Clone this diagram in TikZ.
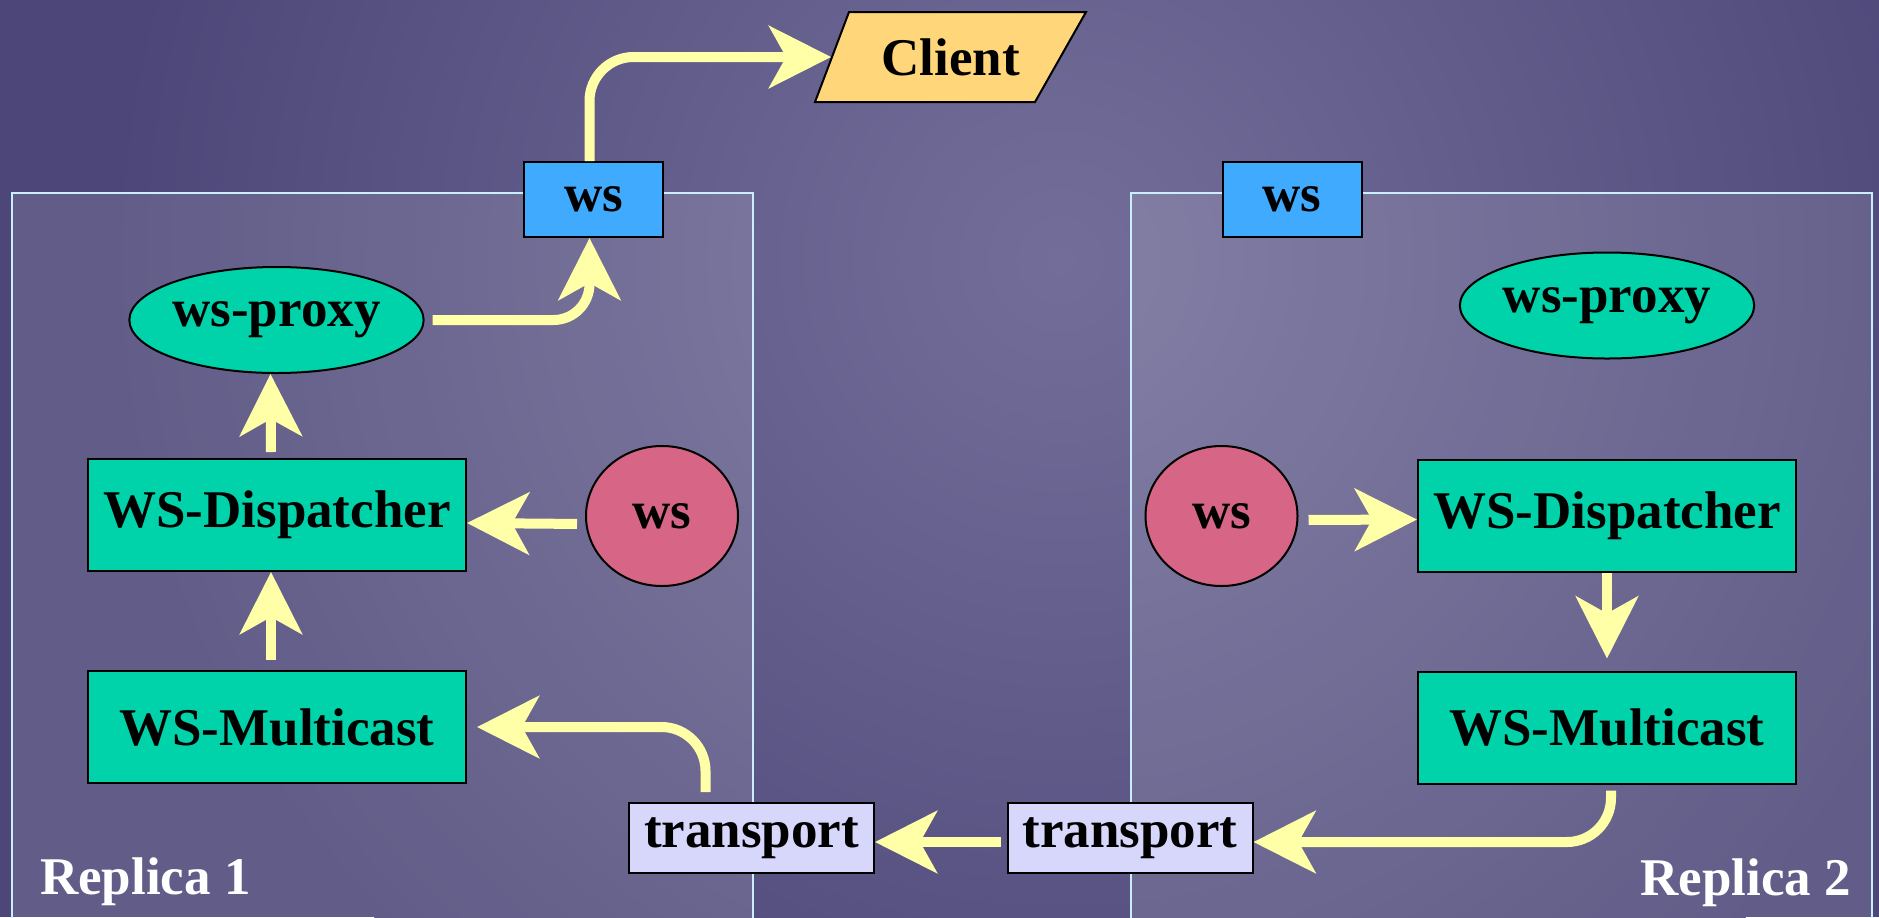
\documentclass[tikz,border=0pt]{standalone}
\usepackage{fontspec}
\setmainfont{Liberation Serif}
\usepackage{xcolor}
\usetikzlibrary{arrows.meta, shapes.geometric}
\definecolor{sfondo}{HTML}{4C4778}
\definecolor{globo}{HTML}{736E99}
\definecolor{bordo}{HTML}{C8EEFF}
\definecolor{blu}{HTML}{40AAFF}
\definecolor{verde}{HTML}{00D2AA}
\definecolor{rosa}{HTML}{D76586}
\definecolor{oro}{HTML}{FFD67A}
\definecolor{lilla}{HTML}{D7D7FB}
\definecolor{giallo}{HTML}{FFFFA8}

\begin{document}
\begin{tikzpicture}[x=0.5pt, y=-0.5pt,
    font=\fontsize{26.5}{30}\selectfont\bfseries,
    box/.style={draw=black, line width=1pt, inner sep=0pt},
    modulo/.style={box, fill=verde, minimum width=189pt, minimum height=56pt},
    wsbox/.style={box, fill=blu, minimum width=69.5pt, minimum height=37.5pt},
    proxy/.style={box, ellipse, fill=verde, minimum width=144pt, minimum height=53pt},
    servizio/.style={box, ellipse, fill=rosa, minimum width=76pt, minimum height=70pt},
    trasporto/.style={box, fill=lilla, minimum width=122.5pt, minimum height=35pt},
    replica/.style={draw=bordo, line width=1pt, fill=white, fill opacity=0.12},
    freccia/.style={draw=giallo, line width=5pt, -{Stealth[length=31pt,width=31pt,inset=8.5pt]}}]
        % sfondo
        \useasboundingbox (0,0) rectangle (1879,917);
        \clip (0,0) rectangle (1879,917);
        \fill[sfondo] (0,0) rectangle (1879,917);
        \shade[inner color=globo, outer color=sfondo] (1060,260) circle[radius=950];
        \draw[replica] (12,193) rectangle (753,930);
        \draw[replica] (1131,193) rectangle (1872,930);
        \node[white, anchor=base west] (rep1) at (33,894) {Replica 1};
        \node[white, anchor=base east] (rep2) at (1858,895) {Replica 2};

        % nodi
        \draw[line width=1pt, fill=oro] (815,102) -- (849,12) -- (1086,12) -- (1035,102) -- cycle;
        \node[inner sep=0pt, minimum width=113pt, minimum height=45pt] (client) at (950.5,57) {Client};
        \node[wsbox] (wsTop1) at (593.5,199.5) {ws};
        \node[wsbox] (wsTop2) at (1292,199.5) {ws};
        \node[proxy] (proxy1) at (276.5,320) {ws-proxy};
        \node[proxy] (proxy2) at (1607,305.5) {ws-proxy};
        \node[modulo] (disp1) at (277,515) {WS-Dispatcher};
        \node[modulo] (mc1) at (277,727) {WS-Multicast};
        \node[modulo] (disp2) at (1607,515.5) {WS-Dispatcher};
        \node[modulo] (mc2) at (1607,727.5) {WS-Multicast};
        \node[servizio] (ws1) at (662,516) {ws};
        \node[servizio] (ws2) at (1221.5,516) {ws};
        \node[trasporto] (trans1) at (751.5,838) {transport};
        \node[trasporto] (trans2) at (1130,838) {transport};

        % frecce
        \draw[freccia, rounded corners=22pt, shorten >=3pt] ([xshift=-2pt]wsTop1.north) |- (client.west);
        \draw[freccia, rounded corners=18pt, shorten <=4pt] (proxy1.east) -| ([xshift=-2pt]wsTop1.south);
        \draw[freccia, shorten <=3pt] ([xshift=-3pt]disp1.north) -- ([xshift=-3pt]proxy1.south);
        \draw[freccia, shorten <=5pt] ([xshift=-3pt]mc1.north) -- ([xshift=-3pt]disp1.south);
        \draw[freccia, shorten <=4pt] ([yshift=-4pt]ws1.west) -- ([yshift=-4pt]disp1.east);
        \draw[freccia, rounded corners=22pt, shorten <=5pt, shorten >=5pt] ([xshift=-23pt]trans1.north) |- (mc1.east);
        \draw[freccia, shorten <=3pt] ([yshift=-2pt]trans2.west) -- ([yshift=-2pt]trans1.east);
        \draw[freccia, rounded corners=22pt, shorten <=3pt] ([xshift=2pt]mc2.south) |- ([yshift=-2pt]trans2.east);
        \draw[freccia, shorten <=5pt] ([yshift=-2pt]ws2.east) -- ([yshift=-2pt]disp2.west);
        \draw[freccia, shorten >=6pt] (disp2.south) -- (mc2.north);
\end{tikzpicture}
\end{document}
